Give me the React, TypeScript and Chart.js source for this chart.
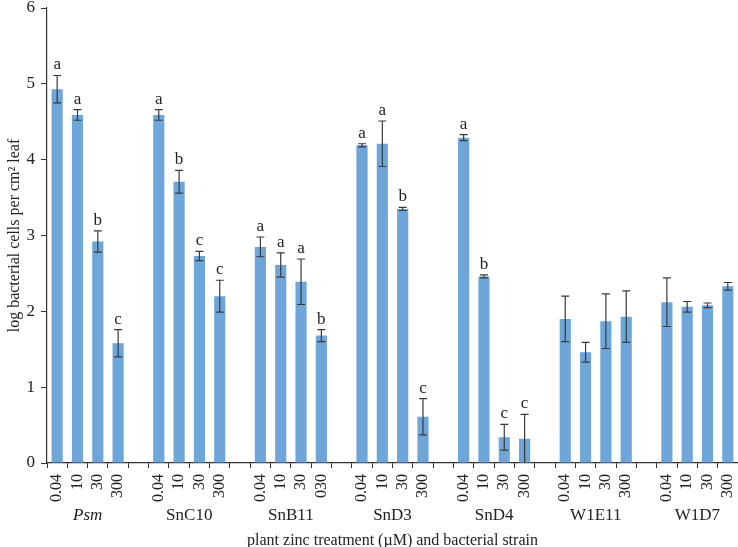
import React, { useEffect, useRef } from "react";
import { Chart, registerables } from "chart.js";

Chart.register(...registerables);

const strains = ["Psm", "SnC10", "SnB11", "SnD3", "SnD4", "W1E11", "W1D7"];
const zincLabels = [
  ["0.04", "10", "30", "300"],
  ["0.04", "10", "30", "300"],
  ["0.04", "10", "30", "030"],
  ["0.04", "10", "30", "300"],
  ["0.04", "10", "30", "300"],
  ["0.04", "10", "30", "300"],
  ["0.04", "10", "30", "300"],
];
const means = [
  [4.93, 4.59, 2.92, 1.58],
  [4.59, 3.71, 2.73, 2.2],
  [2.85, 2.61, 2.39, 1.68],
  [4.19, 4.21, 3.35, 0.61],
  [4.29, 2.46, 0.34, 0.32],
  [1.9, 1.46, 1.87, 1.93],
  [2.12, 2.06, 2.08, 2.33],
];
const errors = [
  [0.18, 0.07, 0.14, 0.18],
  [0.07, 0.15, 0.06, 0.21],
  [0.13, 0.16, 0.3, 0.08],
  [0.02, 0.3, 0.02, 0.24],
  [0.04, 0.02, 0.17, 0.32],
  [0.3, 0.13, 0.36, 0.34],
  [0.32, 0.07, 0.03, 0.05],
];
const letters = [
  ["a", "a", "b", "c"],
  ["a", "b", "c", "c"],
  ["a", "a", "a", "b"],
  ["a", "a", "b", "c"],
  ["a", "b", "c", "c"],
  ["", "", "", ""],
  ["", "", "", ""],
];
const yTitle = "log bacterial cells per cm\u00B2 leaf";
const xTitle = "plant zinc treatment (\u00B5M) and bacterial strain";

const SERIF = "'Liberation Serif', 'Times New Roman', serif";

export default function App() {
  const ref = useRef<HTMLCanvasElement | null>(null);

  useEffect(() => {
    if (!ref.current) return;
    const labels: string[] = [];
    const values: (number | null)[] = [];
    const errs: (number | null)[] = [];
    const lets: string[] = [];
    const groupOf: number[] = [];
    strains.forEach((s, gi) => {
      for (let k = 0; k < 4; k++) {
        labels.push(zincLabels[gi][k]);
        values.push(means[gi][k]);
        errs.push(errors[gi][k]);
        lets.push(letters[gi][k]);
        groupOf.push(gi);
      }
      if (gi < strains.length - 1) {
        labels.push("");
        values.push(null);
        errs.push(null);
        lets.push("");
        groupOf.push(-1);
      }
    });

    const overlay = {
      id: "overlay",
      afterDatasetsDraw(chart: any) {
        const ctx = chart.ctx;
        const meta = chart.getDatasetMeta(0);
        const ys = chart.scales.y;
        ctx.save();
        ctx.strokeStyle = "#3a3a3a";
        ctx.lineWidth = 1.2;
        values.forEach((v, i) => {
          if (v == null) return;
          const e = errs[i] as number;
          const x = meta.data[i].x;
          const yt = ys.getPixelForValue(v + e);
          const yb = ys.getPixelForValue(Math.max(0, v - e));
          ctx.beginPath();
          ctx.moveTo(x, yt);
          ctx.lineTo(x, yb);
          ctx.moveTo(x - 4, yt);
          ctx.lineTo(x + 4, yt);
          if (v - e > 0) {
            ctx.moveTo(x - 4, yb);
            ctx.lineTo(x + 4, yb);
          }
          ctx.stroke();
          if (lets[i]) {
            ctx.fillStyle = "#222";
            ctx.font = `17px ${SERIF}`;
            ctx.textAlign = "center";
            ctx.textBaseline = "alphabetic";
            ctx.fillText(lets[i], x, yt - 6);
          }
        });
        ctx.restore();
      },
      afterDraw(chart: any) {
        const ctx = chart.ctx;
        const meta = chart.getDatasetMeta(0);
        const area = chart.chartArea;
        ctx.save();
        ctx.fillStyle = "#222";
        ctx.textAlign = "center";
        ctx.textBaseline = "middle";
        strains.forEach((s, gi) => {
          const idx: number[] = [];
          groupOf.forEach((g, i) => {
            if (g === gi) idx.push(i);
          });
          const cx = (meta.data[idx[0]].x + meta.data[idx[idx.length - 1]].x) / 2;
          ctx.font = (gi === 0 ? "italic " : "") + `17px ${SERIF}`;
          ctx.fillText(s, cx, area.bottom + 53);
        });
        ctx.font = `16px ${SERIF}`;
        ctx.fillText(xTitle, (area.left + area.right) / 2, area.bottom + 78);
        ctx.restore();
      },
    };

    const chart = new Chart(ref.current, {
      type: "bar",
      data: {
        labels,
        datasets: [
          {
            data: values,
            backgroundColor: "#6fa6da",
            borderWidth: 0,
            barPercentage: 0.55,
            categoryPercentage: 1,
          },
        ],
      },
      options: {
        responsive: false,
        animation: false,
        layout: { padding: { top: 8, right: 0, bottom: 0, left: 0 } },
        plugins: {
          legend: { display: false },
          tooltip: { enabled: false },
        },
        scales: {
          x: {
            offset: true,
            grid: {
              display: true,
              drawOnChartArea: false,
              drawTicks: true,
              tickLength: 5,
              color: "#333",
              offset: true,
            },
            border: { display: true, color: "#333", width: 1.2 },
            ticks: {
              autoSkip: false,
              minRotation: 90,
              maxRotation: 90,
              padding: 6,
              color: "#222",
              font: { family: SERIF, size: 16 },
            },
            afterFit(scale: any) {
              scale.height = 84;
              scale.paddingLeft = 0;
              scale.paddingRight = 0;
            },
          },
          y: {
            min: 0,
            max: 6,
            ticks: {
              stepSize: 1,
              padding: 6,
              color: "#222",
              font: { family: SERIF, size: 17 },
            },
            grid: {
              display: true,
              drawOnChartArea: false,
              drawTicks: true,
              tickLength: 6,
              color: "#333",
            },
            border: { display: true, color: "#333", width: 1.2 },
            title: {
              display: true,
              text: yTitle,
              color: "#222",
              font: { family: SERIF, size: 16 },
              padding: { top: 5, bottom: 0 },
            },
            afterFit(scale: any) {
              scale.width = 47;
              scale.paddingTop = 0;
              scale.paddingBottom = 0;
            },
          },
        },
      },
      plugins: [overlay],
    });
    return () => chart.destroy();
  }, []);

  return (
    <div style={{ position: "absolute", left: 0, top: 0, width: 738, height: 547, background: "#fff" }}>
      <canvas ref={ref} width={738} height={547} style={{ display: "block", width: 738, height: 547 }} />
    </div>
  );
}
